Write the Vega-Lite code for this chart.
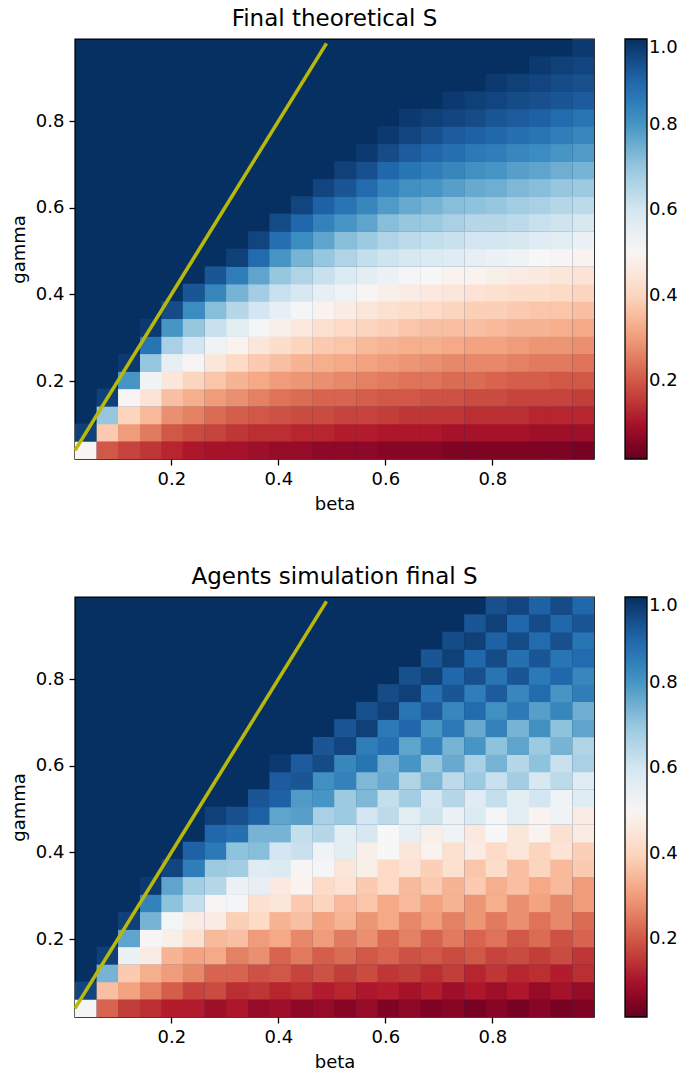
{"$schema":"https://vega.github.io/schema/vega-lite/v6.json","padding":{"left":9,"top":7,"right":0,"bottom":0},"background":"white","config":{"font":"DejaVu Sans","view":{"fill":"#053061","stroke":"black","strokeWidth":1.4},"axis":{"grid":false,"domain":false,"tickColor":"black","labelColor":"black","titleColor":"black","labelFontSize":18,"titleFontSize":18,"titleFontWeight":"normal","tickSize":6,"tickWidth":1.3,"labelPadding":5,"titlePadding":7},"title":{"fontSize":23,"fontWeight":"normal","color":"black","offset":5},"legend":{"gradientLength":420,"gradientThickness":22,"gradientStrokeColor":"black","gradientStrokeWidth":1.3,"labelFontSize":18,"labelColor":"black","labelOffset":23,"padding":0,"offset":31}},"datasets":{"t":[
{"b":0.04,"g":0.04,"s":0.5},{"b":0.04,"g":0.081,"s":0.97},
{"b":0.081,"g":0.04,"s":0.2},{"b":0.081,"g":0.081,"s":0.38},{"b":0.081,"g":0.121,"s":0.7},{"b":0.081,"g":0.162,"s":0.97},
{"b":0.121,"g":0.04,"s":0.17},{"b":0.121,"g":0.081,"s":0.3},{"b":0.121,"g":0.121,"s":0.4},{"b":0.121,"g":0.162,"s":0.5},{"b":0.121,"g":0.202,"s":0.8},{"b":0.121,"g":0.242,"s":0.98},
{"b":0.162,"g":0.04,"s":0.15},{"b":0.162,"g":0.081,"s":0.25},{"b":0.162,"g":0.121,"s":0.35},{"b":0.162,"g":0.162,"s":0.44},{"b":0.162,"g":0.202,"s":0.53},{"b":0.162,"g":0.242,"s":0.7},{"b":0.162,"g":0.283,"s":0.87},{"b":0.162,"g":0.323,"s":0.98},
{"b":0.202,"g":0.04,"s":0.13},{"b":0.202,"g":0.081,"s":0.2},{"b":0.202,"g":0.121,"s":0.28},{"b":0.202,"g":0.162,"s":0.36},{"b":0.202,"g":0.202,"s":0.45},{"b":0.202,"g":0.242,"s":0.55},{"b":0.202,"g":0.283,"s":0.67},{"b":0.202,"g":0.323,"s":0.8},{"b":0.202,"g":0.364,"s":0.95},
{"b":0.242,"g":0.04,"s":0.11},{"b":0.242,"g":0.081,"s":0.18},{"b":0.242,"g":0.121,"s":0.26},{"b":0.242,"g":0.162,"s":0.33},{"b":0.242,"g":0.202,"s":0.4},{"b":0.242,"g":0.242,"s":0.5},{"b":0.242,"g":0.283,"s":0.6},{"b":0.242,"g":0.323,"s":0.7},{"b":0.242,"g":0.364,"s":0.82},{"b":0.242,"g":0.404,"s":0.93},
{"b":0.283,"g":0.04,"s":0.1},{"b":0.283,"g":0.081,"s":0.17},{"b":0.283,"g":0.121,"s":0.23},{"b":0.283,"g":0.162,"s":0.3},{"b":0.283,"g":0.202,"s":0.37},{"b":0.283,"g":0.242,"s":0.45},{"b":0.283,"g":0.283,"s":0.53},{"b":0.283,"g":0.323,"s":0.62},{"b":0.283,"g":0.364,"s":0.72},{"b":0.283,"g":0.404,"s":0.83},{"b":0.283,"g":0.444,"s":0.93},
{"b":0.323,"g":0.04,"s":0.1},{"b":0.323,"g":0.081,"s":0.15},{"b":0.323,"g":0.121,"s":0.21},{"b":0.323,"g":0.162,"s":0.28},{"b":0.323,"g":0.202,"s":0.34},{"b":0.323,"g":0.242,"s":0.41},{"b":0.323,"g":0.283,"s":0.49},{"b":0.323,"g":0.323,"s":0.56},{"b":0.323,"g":0.364,"s":0.65},{"b":0.323,"g":0.404,"s":0.74},{"b":0.323,"g":0.444,"s":0.85},{"b":0.323,"g":0.485,"s":0.97},
{"b":0.364,"g":0.04,"s":0.09},{"b":0.364,"g":0.081,"s":0.14},{"b":0.364,"g":0.121,"s":0.2},{"b":0.364,"g":0.162,"s":0.26},{"b":0.364,"g":0.202,"s":0.32},{"b":0.364,"g":0.242,"s":0.38},{"b":0.364,"g":0.283,"s":0.45},{"b":0.364,"g":0.323,"s":0.52},{"b":0.364,"g":0.364,"s":0.6},{"b":0.364,"g":0.404,"s":0.68},{"b":0.364,"g":0.444,"s":0.77},{"b":0.364,"g":0.485,"s":0.89},{"b":0.364,"g":0.525,"s":0.96},
{"b":0.404,"g":0.04,"s":0.08},{"b":0.404,"g":0.081,"s":0.14},{"b":0.404,"g":0.121,"s":0.19},{"b":0.404,"g":0.162,"s":0.24},{"b":0.404,"g":0.202,"s":0.3},{"b":0.404,"g":0.242,"s":0.36},{"b":0.404,"g":0.283,"s":0.42},{"b":0.404,"g":0.323,"s":0.48},{"b":0.404,"g":0.364,"s":0.55},{"b":0.404,"g":0.404,"s":0.62},{"b":0.404,"g":0.444,"s":0.7},{"b":0.404,"g":0.485,"s":0.8},{"b":0.404,"g":0.525,"s":0.88},{"b":0.404,"g":0.566,"s":0.95},
{"b":0.444,"g":0.04,"s":0.08},{"b":0.444,"g":0.081,"s":0.13},{"b":0.444,"g":0.121,"s":0.18},{"b":0.444,"g":0.162,"s":0.23},{"b":0.444,"g":0.202,"s":0.29},{"b":0.444,"g":0.242,"s":0.34},{"b":0.444,"g":0.283,"s":0.4},{"b":0.444,"g":0.323,"s":0.46},{"b":0.444,"g":0.364,"s":0.52},{"b":0.444,"g":0.404,"s":0.59},{"b":0.444,"g":0.444,"s":0.66},{"b":0.444,"g":0.485,"s":0.74},{"b":0.444,"g":0.525,"s":0.82},{"b":0.444,"g":0.566,"s":0.9},{"b":0.444,"g":0.606,"s":0.96},
{"b":0.485,"g":0.04,"s":0.07},{"b":0.485,"g":0.081,"s":0.13},{"b":0.485,"g":0.121,"s":0.18},{"b":0.485,"g":0.162,"s":0.22},{"b":0.485,"g":0.202,"s":0.28},{"b":0.485,"g":0.242,"s":0.33},{"b":0.485,"g":0.283,"s":0.38},{"b":0.485,"g":0.323,"s":0.43},{"b":0.485,"g":0.364,"s":0.49},{"b":0.485,"g":0.404,"s":0.55},{"b":0.485,"g":0.444,"s":0.62},{"b":0.485,"g":0.485,"s":0.7},{"b":0.485,"g":0.525,"s":0.77},{"b":0.485,"g":0.566,"s":0.84},{"b":0.485,"g":0.606,"s":0.91},{"b":0.485,"g":0.646,"s":0.96},
{"b":0.525,"g":0.04,"s":0.07},{"b":0.525,"g":0.081,"s":0.12},{"b":0.525,"g":0.121,"s":0.17},{"b":0.525,"g":0.162,"s":0.22},{"b":0.525,"g":0.202,"s":0.27},{"b":0.525,"g":0.242,"s":0.32},{"b":0.525,"g":0.283,"s":0.37},{"b":0.525,"g":0.323,"s":0.41},{"b":0.525,"g":0.364,"s":0.47},{"b":0.525,"g":0.404,"s":0.53},{"b":0.525,"g":0.444,"s":0.58},{"b":0.525,"g":0.485,"s":0.66},{"b":0.525,"g":0.525,"s":0.72},{"b":0.525,"g":0.566,"s":0.8},{"b":0.525,"g":0.606,"s":0.87},{"b":0.525,"g":0.646,"s":0.93},{"b":0.525,"g":0.687,"s":0.97},
{"b":0.566,"g":0.04,"s":0.07},{"b":0.566,"g":0.081,"s":0.12},{"b":0.566,"g":0.121,"s":0.17},{"b":0.566,"g":0.162,"s":0.21},{"b":0.566,"g":0.202,"s":0.26},{"b":0.566,"g":0.242,"s":0.31},{"b":0.566,"g":0.283,"s":0.35},{"b":0.566,"g":0.323,"s":0.4},{"b":0.566,"g":0.364,"s":0.45},{"b":0.566,"g":0.404,"s":0.5},{"b":0.566,"g":0.444,"s":0.56},{"b":0.566,"g":0.485,"s":0.63},{"b":0.566,"g":0.525,"s":0.69},{"b":0.566,"g":0.566,"s":0.77},{"b":0.566,"g":0.606,"s":0.83},{"b":0.566,"g":0.646,"s":0.89},{"b":0.566,"g":0.687,"s":0.94},{"b":0.566,"g":0.727,"s":0.98},
{"b":0.606,"g":0.04,"s":0.06},{"b":0.606,"g":0.081,"s":0.11},{"b":0.606,"g":0.121,"s":0.16},{"b":0.606,"g":0.162,"s":0.2},{"b":0.606,"g":0.202,"s":0.25},{"b":0.606,"g":0.242,"s":0.3},{"b":0.606,"g":0.283,"s":0.34},{"b":0.606,"g":0.323,"s":0.39},{"b":0.606,"g":0.364,"s":0.43},{"b":0.606,"g":0.404,"s":0.48},{"b":0.606,"g":0.444,"s":0.54},{"b":0.606,"g":0.485,"s":0.61},{"b":0.606,"g":0.525,"s":0.66},{"b":0.606,"g":0.566,"s":0.72},{"b":0.606,"g":0.606,"s":0.79},{"b":0.606,"g":0.646,"s":0.84},{"b":0.606,"g":0.687,"s":0.9},{"b":0.606,"g":0.727,"s":0.95},{"b":0.606,"g":0.768,"s":0.98},
{"b":0.646,"g":0.04,"s":0.06},{"b":0.646,"g":0.081,"s":0.11},{"b":0.646,"g":0.121,"s":0.15},{"b":0.646,"g":0.162,"s":0.2},{"b":0.646,"g":0.202,"s":0.24},{"b":0.646,"g":0.242,"s":0.29},{"b":0.646,"g":0.283,"s":0.33},{"b":0.646,"g":0.323,"s":0.37},{"b":0.646,"g":0.364,"s":0.42},{"b":0.646,"g":0.404,"s":0.47},{"b":0.646,"g":0.444,"s":0.52},{"b":0.646,"g":0.485,"s":0.59},{"b":0.646,"g":0.525,"s":0.64},{"b":0.646,"g":0.566,"s":0.7},{"b":0.646,"g":0.606,"s":0.76},{"b":0.646,"g":0.646,"s":0.81},{"b":0.646,"g":0.687,"s":0.87},{"b":0.646,"g":0.727,"s":0.92},{"b":0.646,"g":0.768,"s":0.96},{"b":0.646,"g":0.808,"s":0.98},
{"b":0.687,"g":0.04,"s":0.06},{"b":0.687,"g":0.081,"s":0.11},{"b":0.687,"g":0.121,"s":0.15},{"b":0.687,"g":0.162,"s":0.19},{"b":0.687,"g":0.202,"s":0.24},{"b":0.687,"g":0.242,"s":0.28},{"b":0.687,"g":0.283,"s":0.33},{"b":0.687,"g":0.323,"s":0.36},{"b":0.687,"g":0.364,"s":0.41},{"b":0.687,"g":0.404,"s":0.46},{"b":0.687,"g":0.444,"s":0.51},{"b":0.687,"g":0.485,"s":0.58},{"b":0.687,"g":0.525,"s":0.63},{"b":0.687,"g":0.566,"s":0.69},{"b":0.687,"g":0.606,"s":0.74},{"b":0.687,"g":0.646,"s":0.8},{"b":0.687,"g":0.687,"s":0.85},{"b":0.687,"g":0.727,"s":0.9},{"b":0.687,"g":0.768,"s":0.94},{"b":0.687,"g":0.808,"s":0.97},
{"b":0.727,"g":0.04,"s":0.05},{"b":0.727,"g":0.081,"s":0.1},{"b":0.727,"g":0.121,"s":0.15},{"b":0.727,"g":0.162,"s":0.19},{"b":0.727,"g":0.202,"s":0.23},{"b":0.727,"g":0.242,"s":0.27},{"b":0.727,"g":0.283,"s":0.32},{"b":0.727,"g":0.323,"s":0.36},{"b":0.727,"g":0.364,"s":0.4},{"b":0.727,"g":0.404,"s":0.45},{"b":0.727,"g":0.444,"s":0.49},{"b":0.727,"g":0.485,"s":0.57},{"b":0.727,"g":0.525,"s":0.62},{"b":0.727,"g":0.566,"s":0.67},{"b":0.727,"g":0.606,"s":0.72},{"b":0.727,"g":0.646,"s":0.78},{"b":0.727,"g":0.687,"s":0.83},{"b":0.727,"g":0.727,"s":0.88},{"b":0.727,"g":0.768,"s":0.92},{"b":0.727,"g":0.808,"s":0.96},{"b":0.727,"g":0.848,"s":0.98},
{"b":0.768,"g":0.04,"s":0.05},{"b":0.768,"g":0.081,"s":0.1},{"b":0.768,"g":0.121,"s":0.14},{"b":0.768,"g":0.162,"s":0.18},{"b":0.768,"g":0.202,"s":0.23},{"b":0.768,"g":0.242,"s":0.27},{"b":0.768,"g":0.283,"s":0.31},{"b":0.768,"g":0.323,"s":0.36},{"b":0.768,"g":0.364,"s":0.39},{"b":0.768,"g":0.404,"s":0.44},{"b":0.768,"g":0.444,"s":0.49},{"b":0.768,"g":0.485,"s":0.55},{"b":0.768,"g":0.525,"s":0.6},{"b":0.768,"g":0.566,"s":0.65},{"b":0.768,"g":0.606,"s":0.71},{"b":0.768,"g":0.646,"s":0.76},{"b":0.768,"g":0.687,"s":0.81},{"b":0.768,"g":0.727,"s":0.86},{"b":0.768,"g":0.768,"s":0.91},{"b":0.768,"g":0.808,"s":0.95},{"b":0.768,"g":0.848,"s":0.97},
{"b":0.808,"g":0.04,"s":0.05},{"b":0.808,"g":0.081,"s":0.1},{"b":0.808,"g":0.121,"s":0.14},{"b":0.808,"g":0.162,"s":0.18},{"b":0.808,"g":0.202,"s":0.22},{"b":0.808,"g":0.242,"s":0.27},{"b":0.808,"g":0.283,"s":0.31},{"b":0.808,"g":0.323,"s":0.35},{"b":0.808,"g":0.364,"s":0.39},{"b":0.808,"g":0.404,"s":0.43},{"b":0.808,"g":0.444,"s":0.48},{"b":0.808,"g":0.485,"s":0.54},{"b":0.808,"g":0.525,"s":0.6},{"b":0.808,"g":0.566,"s":0.65},{"b":0.808,"g":0.606,"s":0.7},{"b":0.808,"g":0.646,"s":0.75},{"b":0.808,"g":0.687,"s":0.8},{"b":0.808,"g":0.727,"s":0.85},{"b":0.808,"g":0.768,"s":0.9},{"b":0.808,"g":0.808,"s":0.93},{"b":0.808,"g":0.848,"s":0.96},{"b":0.808,"g":0.889,"s":0.98},
{"b":0.848,"g":0.04,"s":0.05},{"b":0.848,"g":0.081,"s":0.1},{"b":0.848,"g":0.121,"s":0.14},{"b":0.848,"g":0.162,"s":0.17},{"b":0.848,"g":0.202,"s":0.21},{"b":0.848,"g":0.242,"s":0.26},{"b":0.848,"g":0.283,"s":0.3},{"b":0.848,"g":0.323,"s":0.34},{"b":0.848,"g":0.364,"s":0.38},{"b":0.848,"g":0.404,"s":0.42},{"b":0.848,"g":0.444,"s":0.47},{"b":0.848,"g":0.485,"s":0.53},{"b":0.848,"g":0.525,"s":0.59},{"b":0.848,"g":0.566,"s":0.64},{"b":0.848,"g":0.606,"s":0.68},{"b":0.848,"g":0.646,"s":0.73},{"b":0.848,"g":0.687,"s":0.78},{"b":0.848,"g":0.727,"s":0.83},{"b":0.848,"g":0.768,"s":0.88},{"b":0.848,"g":0.808,"s":0.92},{"b":0.848,"g":0.848,"s":0.95},{"b":0.848,"g":0.889,"s":0.97},
{"b":0.889,"g":0.04,"s":0.05},{"b":0.889,"g":0.081,"s":0.09},{"b":0.889,"g":0.121,"s":0.13},{"b":0.889,"g":0.162,"s":0.17},{"b":0.889,"g":0.202,"s":0.21},{"b":0.889,"g":0.242,"s":0.25},{"b":0.889,"g":0.283,"s":0.29},{"b":0.889,"g":0.323,"s":0.34},{"b":0.889,"g":0.364,"s":0.37},{"b":0.889,"g":0.404,"s":0.42},{"b":0.889,"g":0.444,"s":0.46},{"b":0.889,"g":0.485,"s":0.51},{"b":0.889,"g":0.525,"s":0.57},{"b":0.889,"g":0.566,"s":0.62},{"b":0.889,"g":0.606,"s":0.67},{"b":0.889,"g":0.646,"s":0.72},{"b":0.889,"g":0.687,"s":0.77},{"b":0.889,"g":0.727,"s":0.82},{"b":0.889,"g":0.768,"s":0.87},{"b":0.889,"g":0.808,"s":0.91},{"b":0.889,"g":0.848,"s":0.94},{"b":0.889,"g":0.889,"s":0.96},{"b":0.889,"g":0.929,"s":0.98},
{"b":0.929,"g":0.04,"s":0.05},{"b":0.929,"g":0.081,"s":0.09},{"b":0.929,"g":0.121,"s":0.13},{"b":0.929,"g":0.162,"s":0.17},{"b":0.929,"g":0.202,"s":0.2},{"b":0.929,"g":0.242,"s":0.25},{"b":0.929,"g":0.283,"s":0.29},{"b":0.929,"g":0.323,"s":0.33},{"b":0.929,"g":0.364,"s":0.37},{"b":0.929,"g":0.404,"s":0.41},{"b":0.929,"g":0.444,"s":0.45},{"b":0.929,"g":0.485,"s":0.5},{"b":0.929,"g":0.525,"s":0.56},{"b":0.929,"g":0.566,"s":0.61},{"b":0.929,"g":0.606,"s":0.65},{"b":0.929,"g":0.646,"s":0.7},{"b":0.929,"g":0.687,"s":0.75},{"b":0.929,"g":0.727,"s":0.8},{"b":0.929,"g":0.768,"s":0.85},{"b":0.929,"g":0.808,"s":0.89},{"b":0.929,"g":0.848,"s":0.93},{"b":0.929,"g":0.889,"s":0.95},{"b":0.929,"g":0.929,"s":0.97},
{"b":0.97,"g":0.04,"s":0.04},{"b":0.97,"g":0.081,"s":0.09},{"b":0.97,"g":0.121,"s":0.13},{"b":0.97,"g":0.162,"s":0.16},{"b":0.97,"g":0.202,"s":0.2},{"b":0.97,"g":0.242,"s":0.24},{"b":0.97,"g":0.283,"s":0.28},{"b":0.97,"g":0.323,"s":0.32},{"b":0.97,"g":0.364,"s":0.36},{"b":0.97,"g":0.404,"s":0.4},{"b":0.97,"g":0.444,"s":0.44},{"b":0.97,"g":0.485,"s":0.49},{"b":0.97,"g":0.525,"s":0.54},{"b":0.97,"g":0.566,"s":0.59},{"b":0.97,"g":0.606,"s":0.64},{"b":0.97,"g":0.646,"s":0.69},{"b":0.97,"g":0.687,"s":0.74},{"b":0.97,"g":0.727,"s":0.79},{"b":0.97,"g":0.768,"s":0.83},{"b":0.97,"g":0.808,"s":0.87},{"b":0.97,"g":0.848,"s":0.92},{"b":0.97,"g":0.889,"s":0.94},{"b":0.97,"g":0.929,"s":0.96},{"b":0.97,"g":0.97,"s":0.98}
],"a":[
{"b":0.04,"g":0.04,"s":0.52},{"b":0.04,"g":0.081,"s":0.96},
{"b":0.081,"g":0.04,"s":0.22},{"b":0.081,"g":0.081,"s":0.36},{"b":0.081,"g":0.121,"s":0.74},{"b":0.081,"g":0.162,"s":0.97},
{"b":0.121,"g":0.04,"s":0.16},{"b":0.121,"g":0.081,"s":0.31},{"b":0.121,"g":0.121,"s":0.38},{"b":0.121,"g":0.162,"s":0.54},{"b":0.121,"g":0.202,"s":0.77},{"b":0.121,"g":0.242,"s":0.97},
{"b":0.162,"g":0.04,"s":0.14},{"b":0.162,"g":0.081,"s":0.26},{"b":0.162,"g":0.121,"s":0.33},{"b":0.162,"g":0.162,"s":0.47},{"b":0.162,"g":0.202,"s":0.5},{"b":0.162,"g":0.242,"s":0.74},{"b":0.162,"g":0.283,"s":0.84},{"b":0.162,"g":0.323,"s":0.98},
{"b":0.202,"g":0.04,"s":0.12},{"b":0.202,"g":0.081,"s":0.21},{"b":0.202,"g":0.121,"s":0.3},{"b":0.202,"g":0.162,"s":0.34},{"b":0.202,"g":0.202,"s":0.48},{"b":0.202,"g":0.242,"s":0.52},{"b":0.202,"g":0.283,"s":0.71},{"b":0.202,"g":0.323,"s":0.77},{"b":0.202,"g":0.364,"s":0.96},
{"b":0.242,"g":0.04,"s":0.12},{"b":0.242,"g":0.081,"s":0.17},{"b":0.242,"g":0.121,"s":0.27},{"b":0.242,"g":0.162,"s":0.31},{"b":0.242,"g":0.202,"s":0.43},{"b":0.242,"g":0.242,"s":0.47},{"b":0.242,"g":0.283,"s":0.63},{"b":0.242,"g":0.323,"s":0.68},{"b":0.242,"g":0.364,"s":0.85},{"b":0.242,"g":0.404,"s":0.91},
{"b":0.283,"g":0.04,"s":0.09},{"b":0.283,"g":0.081,"s":0.18},{"b":0.283,"g":0.121,"s":0.22},{"b":0.283,"g":0.162,"s":0.32},{"b":0.283,"g":0.202,"s":0.35},{"b":0.283,"g":0.242,"s":0.47},{"b":0.283,"g":0.283,"s":0.5},{"b":0.283,"g":0.323,"s":0.65},{"b":0.283,"g":0.364,"s":0.69},{"b":0.283,"g":0.404,"s":0.86},{"b":0.283,"g":0.444,"s":0.9},{"b":0.283,"g":0.485,"s":0.97},
{"b":0.323,"g":0.04,"s":0.11},{"b":0.323,"g":0.081,"s":0.14},{"b":0.323,"g":0.121,"s":0.22},{"b":0.323,"g":0.162,"s":0.26},{"b":0.323,"g":0.202,"s":0.36},{"b":0.323,"g":0.242,"s":0.39},{"b":0.323,"g":0.283,"s":0.52},{"b":0.323,"g":0.323,"s":0.54},{"b":0.323,"g":0.364,"s":0.68},{"b":0.323,"g":0.404,"s":0.71},{"b":0.323,"g":0.444,"s":0.88},{"b":0.323,"g":0.485,"s":0.94},
{"b":0.364,"g":0.04,"s":0.08},{"b":0.364,"g":0.081,"s":0.15},{"b":0.364,"g":0.121,"s":0.19},{"b":0.364,"g":0.162,"s":0.28},{"b":0.364,"g":0.202,"s":0.3},{"b":0.364,"g":0.242,"s":0.41},{"b":0.364,"g":0.283,"s":0.43},{"b":0.364,"g":0.323,"s":0.55},{"b":0.364,"g":0.364,"s":0.57},{"b":0.364,"g":0.404,"s":0.72},{"b":0.364,"g":0.444,"s":0.74},{"b":0.364,"g":0.485,"s":0.91},{"b":0.364,"g":0.525,"s":0.93},
{"b":0.404,"g":0.04,"s":0.09},{"b":0.404,"g":0.081,"s":0.13},{"b":0.404,"g":0.121,"s":0.2},{"b":0.404,"g":0.162,"s":0.22},{"b":0.404,"g":0.202,"s":0.32},{"b":0.404,"g":0.242,"s":0.34},{"b":0.404,"g":0.283,"s":0.45},{"b":0.404,"g":0.323,"s":0.46},{"b":0.404,"g":0.364,"s":0.58},{"b":0.404,"g":0.404,"s":0.6},{"b":0.404,"g":0.444,"s":0.74},{"b":0.404,"g":0.485,"s":0.77},{"b":0.404,"g":0.525,"s":0.91},{"b":0.404,"g":0.566,"s":0.92},{"b":0.404,"g":0.606,"s":0.98},
{"b":0.444,"g":0.04,"s":0.07},{"b":0.444,"g":0.081,"s":0.14},{"b":0.444,"g":0.121,"s":0.17},{"b":0.444,"g":0.162,"s":0.25},{"b":0.444,"g":0.202,"s":0.27},{"b":0.444,"g":0.242,"s":0.36},{"b":0.444,"g":0.283,"s":0.38},{"b":0.444,"g":0.323,"s":0.49},{"b":0.444,"g":0.364,"s":0.5},{"b":0.444,"g":0.404,"s":0.62},{"b":0.444,"g":0.444,"s":0.63},{"b":0.444,"g":0.485,"s":0.78},{"b":0.444,"g":0.525,"s":0.79},{"b":0.444,"g":0.566,"s":0.93},{"b":0.444,"g":0.606,"s":0.92},
{"b":0.485,"g":0.04,"s":0.08},{"b":0.485,"g":0.081,"s":0.12},{"b":0.485,"g":0.121,"s":0.19},{"b":0.485,"g":0.162,"s":0.21},{"b":0.485,"g":0.202,"s":0.3},{"b":0.485,"g":0.242,"s":0.31},{"b":0.485,"g":0.283,"s":0.4},{"b":0.485,"g":0.323,"s":0.41},{"b":0.485,"g":0.364,"s":0.52},{"b":0.485,"g":0.404,"s":0.53},{"b":0.485,"g":0.444,"s":0.65},{"b":0.485,"g":0.485,"s":0.67},{"b":0.485,"g":0.525,"s":0.8},{"b":0.485,"g":0.566,"s":0.81},{"b":0.485,"g":0.606,"s":0.95},{"b":0.485,"g":0.646,"s":0.93},
{"b":0.525,"g":0.04,"s":0.06},{"b":0.525,"g":0.081,"s":0.13},{"b":0.525,"g":0.121,"s":0.16},{"b":0.525,"g":0.162,"s":0.23},{"b":0.525,"g":0.202,"s":0.25},{"b":0.525,"g":0.242,"s":0.34},{"b":0.525,"g":0.283,"s":0.35},{"b":0.525,"g":0.323,"s":0.44},{"b":0.525,"g":0.364,"s":0.45},{"b":0.525,"g":0.404,"s":0.56},{"b":0.525,"g":0.444,"s":0.56},{"b":0.525,"g":0.485,"s":0.69},{"b":0.525,"g":0.525,"s":0.69},{"b":0.525,"g":0.566,"s":0.84},{"b":0.525,"g":0.606,"s":0.83},{"b":0.525,"g":0.646,"s":0.96},{"b":0.525,"g":0.687,"s":0.93},
{"b":0.566,"g":0.04,"s":0.08},{"b":0.566,"g":0.081,"s":0.11},{"b":0.566,"g":0.121,"s":0.18},{"b":0.566,"g":0.162,"s":0.2},{"b":0.566,"g":0.202,"s":0.28},{"b":0.566,"g":0.242,"s":0.29},{"b":0.566,"g":0.283,"s":0.37},{"b":0.566,"g":0.323,"s":0.38},{"b":0.566,"g":0.364,"s":0.48},{"b":0.566,"g":0.404,"s":0.48},{"b":0.566,"g":0.444,"s":0.59},{"b":0.566,"g":0.485,"s":0.6},{"b":0.566,"g":0.525,"s":0.73},{"b":0.566,"g":0.566,"s":0.73},{"b":0.566,"g":0.606,"s":0.87},{"b":0.566,"g":0.646,"s":0.85},{"b":0.566,"g":0.687,"s":0.97},{"b":0.566,"g":0.727,"s":0.94},
{"b":0.606,"g":0.04,"s":0.05},{"b":0.606,"g":0.081,"s":0.12},{"b":0.606,"g":0.121,"s":0.15},{"b":0.606,"g":0.162,"s":0.22},{"b":0.606,"g":0.202,"s":0.23},{"b":0.606,"g":0.242,"s":0.32},{"b":0.606,"g":0.283,"s":0.32},{"b":0.606,"g":0.323,"s":0.41},{"b":0.606,"g":0.364,"s":0.41},{"b":0.606,"g":0.404,"s":0.51},{"b":0.606,"g":0.444,"s":0.51},{"b":0.606,"g":0.485,"s":0.64},{"b":0.606,"g":0.525,"s":0.63},{"b":0.606,"g":0.566,"s":0.76},{"b":0.606,"g":0.606,"s":0.75},{"b":0.606,"g":0.646,"s":0.88},{"b":0.606,"g":0.687,"s":0.86},{"b":0.606,"g":0.727,"s":0.97},{"b":0.606,"g":0.768,"s":0.95},
{"b":0.646,"g":0.04,"s":0.07},{"b":0.646,"g":0.081,"s":0.1},{"b":0.646,"g":0.121,"s":0.16},{"b":0.646,"g":0.162,"s":0.19},{"b":0.646,"g":0.202,"s":0.26},{"b":0.646,"g":0.242,"s":0.27},{"b":0.646,"g":0.283,"s":0.35},{"b":0.646,"g":0.323,"s":0.35},{"b":0.646,"g":0.364,"s":0.44},{"b":0.646,"g":0.404,"s":0.45},{"b":0.646,"g":0.444,"s":0.55},{"b":0.646,"g":0.485,"s":0.56},{"b":0.646,"g":0.525,"s":0.68},{"b":0.646,"g":0.566,"s":0.66},{"b":0.646,"g":0.606,"s":0.8},{"b":0.646,"g":0.646,"s":0.77},{"b":0.646,"g":0.687,"s":0.9},{"b":0.646,"g":0.727,"s":0.87},{"b":0.646,"g":0.768,"s":0.97},{"b":0.646,"g":0.808,"s":0.94},
{"b":0.687,"g":0.04,"s":0.05},{"b":0.687,"g":0.081,"s":0.12},{"b":0.687,"g":0.121,"s":0.14},{"b":0.687,"g":0.162,"s":0.2},{"b":0.687,"g":0.202,"s":0.22},{"b":0.687,"g":0.242,"s":0.3},{"b":0.687,"g":0.283,"s":0.31},{"b":0.687,"g":0.323,"s":0.38},{"b":0.687,"g":0.364,"s":0.39},{"b":0.687,"g":0.404,"s":0.49},{"b":0.687,"g":0.444,"s":0.48},{"b":0.687,"g":0.485,"s":0.61},{"b":0.687,"g":0.525,"s":0.6},{"b":0.687,"g":0.566,"s":0.73},{"b":0.687,"g":0.606,"s":0.7},{"b":0.687,"g":0.646,"s":0.84},{"b":0.687,"g":0.687,"s":0.8},{"b":0.687,"g":0.727,"s":0.92},{"b":0.687,"g":0.768,"s":0.88},{"b":0.687,"g":0.808,"s":0.97},{"b":0.687,"g":0.848,"s":0.93},
{"b":0.727,"g":0.04,"s":0.06},{"b":0.727,"g":0.081,"s":0.09},{"b":0.727,"g":0.121,"s":0.16},{"b":0.727,"g":0.162,"s":0.18},{"b":0.727,"g":0.202,"s":0.25},{"b":0.727,"g":0.242,"s":0.26},{"b":0.727,"g":0.283,"s":0.34},{"b":0.727,"g":0.323,"s":0.34},{"b":0.727,"g":0.364,"s":0.43},{"b":0.727,"g":0.404,"s":0.43},{"b":0.727,"g":0.444,"s":0.53},{"b":0.727,"g":0.485,"s":0.54},{"b":0.727,"g":0.525,"s":0.65},{"b":0.727,"g":0.566,"s":0.64},{"b":0.727,"g":0.606,"s":0.76},{"b":0.727,"g":0.646,"s":0.74},{"b":0.727,"g":0.687,"s":0.86},{"b":0.727,"g":0.727,"s":0.83},{"b":0.727,"g":0.768,"s":0.93},{"b":0.727,"g":0.808,"s":0.9},{"b":0.727,"g":0.848,"s":0.97},{"b":0.727,"g":0.889,"s":0.95},
{"b":0.768,"g":0.04,"s":0.04},{"b":0.768,"g":0.081,"s":0.11},{"b":0.768,"g":0.121,"s":0.13},{"b":0.768,"g":0.162,"s":0.2},{"b":0.768,"g":0.202,"s":0.22},{"b":0.768,"g":0.242,"s":0.29},{"b":0.768,"g":0.283,"s":0.29},{"b":0.768,"g":0.323,"s":0.38},{"b":0.768,"g":0.364,"s":0.37},{"b":0.768,"g":0.404,"s":0.47},{"b":0.768,"g":0.444,"s":0.46},{"b":0.768,"g":0.485,"s":0.58},{"b":0.768,"g":0.525,"s":0.57},{"b":0.768,"g":0.566,"s":0.69},{"b":0.768,"g":0.606,"s":0.67},{"b":0.768,"g":0.646,"s":0.8},{"b":0.768,"g":0.687,"s":0.76},{"b":0.768,"g":0.727,"s":0.89},{"b":0.768,"g":0.768,"s":0.85},{"b":0.768,"g":0.808,"s":0.94},{"b":0.768,"g":0.848,"s":0.9},{"b":0.768,"g":0.889,"s":0.97},{"b":0.768,"g":0.929,"s":0.93},
{"b":0.808,"g":0.04,"s":0.06},{"b":0.808,"g":0.081,"s":0.09},{"b":0.808,"g":0.121,"s":0.15},{"b":0.808,"g":0.162,"s":0.17},{"b":0.808,"g":0.202,"s":0.24},{"b":0.808,"g":0.242,"s":0.25},{"b":0.808,"g":0.283,"s":0.33},{"b":0.808,"g":0.323,"s":0.33},{"b":0.808,"g":0.364,"s":0.42},{"b":0.808,"g":0.404,"s":0.41},{"b":0.808,"g":0.444,"s":0.51},{"b":0.808,"g":0.485,"s":0.52},{"b":0.808,"g":0.525,"s":0.63},{"b":0.808,"g":0.566,"s":0.62},{"b":0.808,"g":0.606,"s":0.74},{"b":0.808,"g":0.646,"s":0.71},{"b":0.808,"g":0.687,"s":0.84},{"b":0.808,"g":0.727,"s":0.81},{"b":0.808,"g":0.768,"s":0.92},{"b":0.808,"g":0.808,"s":0.87},{"b":0.808,"g":0.848,"s":0.95},{"b":0.808,"g":0.889,"s":0.91},{"b":0.808,"g":0.929,"s":0.97},{"b":0.808,"g":0.97,"s":0.94},
{"b":0.848,"g":0.04,"s":0.04},{"b":0.848,"g":0.081,"s":0.11},{"b":0.848,"g":0.121,"s":0.13},{"b":0.848,"g":0.162,"s":0.18},{"b":0.848,"g":0.202,"s":0.2},{"b":0.848,"g":0.242,"s":0.28},{"b":0.848,"g":0.283,"s":0.28},{"b":0.848,"g":0.323,"s":0.36},{"b":0.848,"g":0.364,"s":0.36},{"b":0.848,"g":0.404,"s":0.45},{"b":0.848,"g":0.444,"s":0.45},{"b":0.848,"g":0.485,"s":0.56},{"b":0.848,"g":0.525,"s":0.56},{"b":0.848,"g":0.566,"s":0.68},{"b":0.848,"g":0.606,"s":0.65},{"b":0.848,"g":0.646,"s":0.77},{"b":0.848,"g":0.687,"s":0.74},{"b":0.848,"g":0.727,"s":0.86},{"b":0.848,"g":0.768,"s":0.83},{"b":0.848,"g":0.808,"s":0.93},{"b":0.848,"g":0.848,"s":0.88},{"b":0.848,"g":0.889,"s":0.95},{"b":0.848,"g":0.929,"s":0.9},{"b":0.848,"g":0.97,"s":0.96},
{"b":0.889,"g":0.04,"s":0.06},{"b":0.889,"g":0.081,"s":0.08},{"b":0.889,"g":0.121,"s":0.14},{"b":0.889,"g":0.162,"s":0.16},{"b":0.889,"g":0.202,"s":0.23},{"b":0.889,"g":0.242,"s":0.24},{"b":0.889,"g":0.283,"s":0.31},{"b":0.889,"g":0.323,"s":0.32},{"b":0.889,"g":0.364,"s":0.4},{"b":0.889,"g":0.404,"s":0.4},{"b":0.889,"g":0.444,"s":0.49},{"b":0.889,"g":0.485,"s":0.49},{"b":0.889,"g":0.525,"s":0.6},{"b":0.889,"g":0.566,"s":0.59},{"b":0.889,"g":0.606,"s":0.71},{"b":0.889,"g":0.646,"s":0.69},{"b":0.889,"g":0.687,"s":0.81},{"b":0.889,"g":0.727,"s":0.78},{"b":0.889,"g":0.768,"s":0.89},{"b":0.889,"g":0.808,"s":0.86},{"b":0.889,"g":0.848,"s":0.93},{"b":0.889,"g":0.889,"s":0.89},{"b":0.889,"g":0.929,"s":0.95},{"b":0.889,"g":0.97,"s":0.91},
{"b":0.929,"g":0.04,"s":0.04},{"b":0.929,"g":0.081,"s":0.1},{"b":0.929,"g":0.121,"s":0.12},{"b":0.929,"g":0.162,"s":0.18},{"b":0.929,"g":0.202,"s":0.19},{"b":0.929,"g":0.242,"s":0.27},{"b":0.929,"g":0.283,"s":0.27},{"b":0.929,"g":0.323,"s":0.35},{"b":0.929,"g":0.364,"s":0.35},{"b":0.929,"g":0.404,"s":0.44},{"b":0.929,"g":0.444,"s":0.43},{"b":0.929,"g":0.485,"s":0.53},{"b":0.929,"g":0.525,"s":0.53},{"b":0.929,"g":0.566,"s":0.64},{"b":0.929,"g":0.606,"s":0.62},{"b":0.929,"g":0.646,"s":0.74},{"b":0.929,"g":0.687,"s":0.71},{"b":0.929,"g":0.727,"s":0.83},{"b":0.929,"g":0.768,"s":0.8},{"b":0.929,"g":0.808,"s":0.9},{"b":0.929,"g":0.848,"s":0.87},{"b":0.929,"g":0.889,"s":0.94},{"b":0.929,"g":0.929,"s":0.9},{"b":0.929,"g":0.97,"s":0.95},
{"b":0.97,"g":0.04,"s":0.05},{"b":0.97,"g":0.081,"s":0.08},{"b":0.97,"g":0.121,"s":0.14},{"b":0.97,"g":0.162,"s":0.15},{"b":0.97,"g":0.202,"s":0.22},{"b":0.97,"g":0.242,"s":0.23},{"b":0.97,"g":0.283,"s":0.3},{"b":0.97,"g":0.323,"s":0.3},{"b":0.97,"g":0.364,"s":0.38},{"b":0.97,"g":0.404,"s":0.39},{"b":0.97,"g":0.444,"s":0.47},{"b":0.97,"g":0.485,"s":0.47},{"b":0.97,"g":0.525,"s":0.57},{"b":0.97,"g":0.566,"s":0.57},{"b":0.97,"g":0.606,"s":0.67},{"b":0.97,"g":0.646,"s":0.66},{"b":0.97,"g":0.687,"s":0.77},{"b":0.97,"g":0.727,"s":0.75},{"b":0.97,"g":0.768,"s":0.85},{"b":0.97,"g":0.808,"s":0.83},{"b":0.97,"g":0.848,"s":0.89},{"b":0.97,"g":0.889,"s":0.87},{"b":0.97,"g":0.929,"s":0.93},{"b":0.97,"g":0.97,"s":0.9}
],"line":[{"b":0.02,"g":0.04},{"b":0.49,"g":0.98}]},"resolve":{"scale":{"color":"independent"}},"spacing":51,"vconcat":[{"title":"Final theoretical S","width":519,"height":420,"layer":[{"data":{"name":"t"},"mark":{"type":"rect","width":22,"height":18,"clip":true},"encoding":{"x":{"field":"b","type":"quantitative","title":"beta","axis":{"values":[0.2,0.4,0.6,0.8],"format":".1f"},"scale":{"domain":[0.02,0.99],"nice":false,"zero":false}},"y":{"field":"g","type":"quantitative","title":"gamma","axis":{"values":[0.2,0.4,0.6,0.8],"format":".1f"},"scale":{"domain":[0.02,0.99],"nice":false,"zero":false}},"color":{"field":"s","type":"quantitative","title":null,"legend":{"values":[0.2,0.4,0.6,0.8,1.0],"format":".1f"},"scale":{"domain":[0.018,1],"range":["#67001f","#b2182b","#d6604d","#f4a582","#fddbc7","#f7f7f7","#d1e5f0","#92c5de","#4393c3","#2166ac","#053061"]}}}},{"data":{"name":"line"},"mark":{"type":"line","color":"#b8b80c","strokeWidth":3.6},"encoding":{"x":{"field":"b","type":"quantitative"},"y":{"field":"g","type":"quantitative"}}}]},{"title":"Agents simulation final S","width":519,"height":420,"layer":[{"data":{"name":"a"},"mark":{"type":"rect","width":22,"height":18,"clip":true},"encoding":{"x":{"field":"b","type":"quantitative","title":"beta","axis":{"values":[0.2,0.4,0.6,0.8],"format":".1f"},"scale":{"domain":[0.02,0.99],"nice":false,"zero":false}},"y":{"field":"g","type":"quantitative","title":"gamma","axis":{"values":[0.2,0.4,0.6,0.8],"format":".1f"},"scale":{"domain":[0.02,0.99],"nice":false,"zero":false}},"color":{"field":"s","type":"quantitative","title":null,"legend":{"values":[0.2,0.4,0.6,0.8,1.0],"format":".1f"},"scale":{"domain":[0.018,1],"range":["#67001f","#b2182b","#d6604d","#f4a582","#fddbc7","#f7f7f7","#d1e5f0","#92c5de","#4393c3","#2166ac","#053061"]}}}},{"data":{"name":"line"},"mark":{"type":"line","color":"#b8b80c","strokeWidth":3.6},"encoding":{"x":{"field":"b","type":"quantitative"},"y":{"field":"g","type":"quantitative"}}}]}]}
